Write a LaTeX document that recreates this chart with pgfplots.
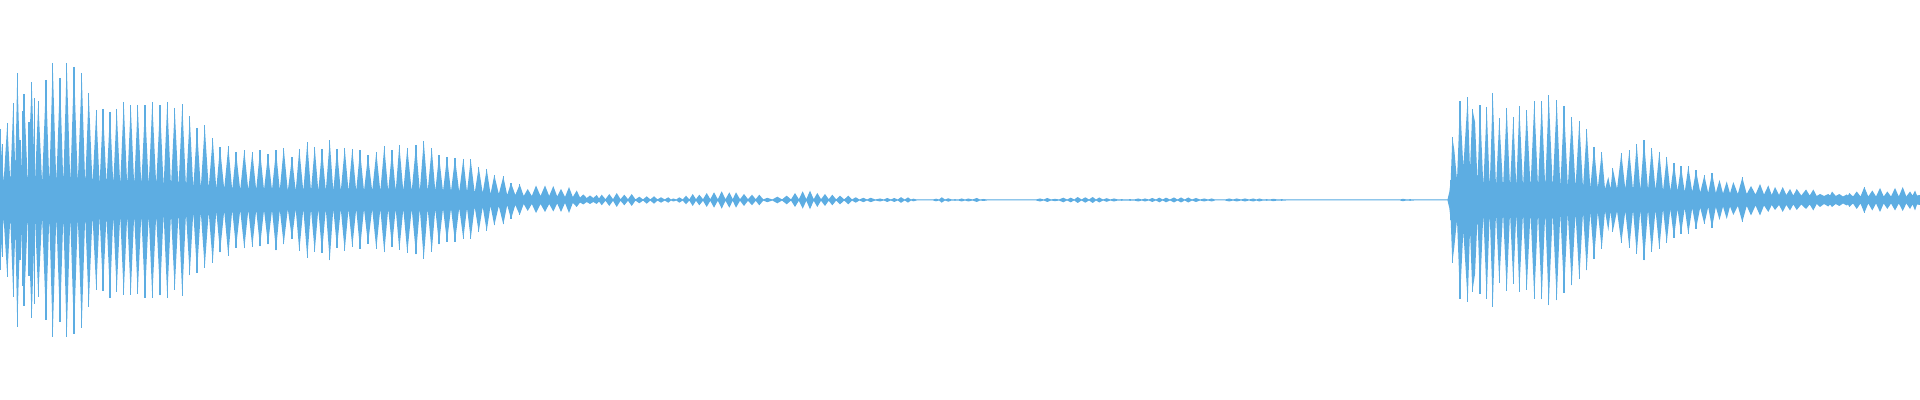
\documentclass[border=0pt]{standalone}
\usepackage{pgfplots}
\usepackage{pgfplotstable}
\pgfplotsset{compat=1.18}
\definecolor{wave}{HTML}{5DADE2}

% envelope: peaks of the spike clusters and the valleys between them (pixels above/below centre)
\pgfplotstableread{
x hi lo
0 71 -70
3.6 18 -18
7.3 77 -77
10.3 18 -18
13.3 97 -97
15.3 30 -30
17.3 127 -127
20.6 18 -18
24 106 -106
27.8 18 -18
31.7 118 -118
35 18 -18
38.3 99 -97
42.1 17 -17
46 120 -120
49.3 17 -17
52.7 137 -137
56.3 17 -17
60 122 -122
63.3 17 -17
66.7 137 -137
70.3 17 -17
74 133 -134
77.8 17 -17
81.7 127 -128
85.2 16 -16
88.7 107 -107
92.5 16 -16
96.3 90 -90
99.6 16 -16
103 91 -91
106.5 16 -16
110 88 -98
113.3 16 -16
116.7 91 -92
120.2 15 -15
123.7 98 -95
127.2 15 -15
130.7 95 -95
134.2 15 -15
137.7 95 -94
141.3 15 -15
145 94.5 -98
148.7 15 -15
152.3 98 -98
156.2 15 -15
160 94.5 -95.5
163.6 14 -14
167.3 98 -98
171 14 -14
174.7 92 -90
178.5 13 -13
182.3 95.5 -96
186 13 -13
189.7 83.5 -75.5
193.3 12 -12
197 72 -73
200.8 12 -12
204.7 74.5 -68
208.7 12 -12
212.7 62 -63
216.3 11 -11
220 53 -52.5
224.2 11 -11
228.3 53.5 -56
232.2 10 -10
236 48 -48
240.2 10 -10
244.3 49.5 -48.5
248.3 10 -10
252.3 48 -47
256.2 10 -10
260 49.5 -46.5
264 10 -10
268 45.5 -44.5
272 10 -10
276 49.5 -50.5
279.8 10 -10
283.7 52 -44.5
287.8 9 -9
292 43 -39
295.7 9 -9
299.3 51 -51
303.3 9 -9
307.3 57.5 -58
311 9 -9
314.7 53 -52
318.3 9 -9
322 51 -53
325.8 9 -9
329.7 59.5 -60.5
333.3 9 -9
337 51 -48
340.8 9 -9
344.7 52 -51
348.5 9 -9
352.3 51 -47
356.2 9 -9
360 49.5 -49
364 9 -9
368 44.5 -44
372.2 9 -9
376.3 48 -49
380.3 9 -9
384.3 53.5 -52.5
388.2 9 -9
392 49.5 -47
395.7 9 -9
399.3 55 -50
403.3 9 -9
407.3 52 -53
411.7 9 -9
416 55 -54.5
419.8 9 -9
423.7 59 -59
427.7 9 -9
431.7 52 -52
435.3 9 -9
439 44.5 -44.5
443 8.5 -8.5
447 43 -42
451 8.5 -8.5
455 42 -42
459.2 8 -8
463.3 41 -39
467 8 -8
470.7 40.5 -39
474.7 7 -7
478.7 33 -32
482.7 7 -7
486.7 31 -31
490.5 6 -6
494.3 25 -25.5
498.8 6 -6
503.3 23.5 -24.5
507.2 5 -5
511 17 -19
515.3 5 -5
519.7 15.5 -15
523.7 4 -4
527.7 11 -11
531.8 4 -4
536 14.5 -13
540.5 4 -4
545 14.5 -12
549.2 4 -4
553.3 14 -11.5
557.2 3.5 -3.5
561 11 -12
565 3 -3
569 13 -13
572.8 3 -3
576.7 9.5 -7
580 2.5 -2.5
583.3 5.5 -4.5
586.7 2 -2
590 4.5 -4
593.3 2 -2
596.7 5 -4
599 1.5 -1.5
601.7 5.3 -5.3
605.5 0.8 -0.8
609.3 6 -6
613 0.8 -0.8
616.7 7 -7
620.5 0.8 -0.8
624.3 5.3 -5.3
628 0.8 -0.8
631.7 6 -6
635.5 0.6 -0.6
639.3 3.3 -3.3
643 0.6 -0.6
646.7 3.7 -3.7
650.3 0.6 -0.6
654 3.7 -3.7
657.5 0.6 -0.6
661 2.7 -2.7
664.7 0.6 -0.6
668.3 2.7 -2.7
671 0.5 -0.5
673.3 1.5 -1.5
676.3 0.5 -0.5
679.3 2.7 -2.7
682.7 0.6 -0.6
686 4.3 -4.3
689.3 0.6 -0.6
692.7 6 -6
696 0.8 -0.8
699.3 5.3 -5.3
703 0.8 -0.8
706.7 7 -7
710.3 0.8 -0.8
714 7.7 -7.7
717.8 0.8 -0.8
721.7 8.7 -8.7
725.5 0.8 -0.8
729.3 7.7 -7.7
732.7 0.8 -0.8
736 7.7 -7.7
740 0.8 -0.8
744 6 -6
748 0.8 -0.8
752 5.3 -5.3
755.7 0.8 -0.8
759.3 5.3 -5.3
763.3 0.6 -0.6
767.3 2.2 -2.2
772.3 0.5 -0.5
777.3 3.3 -3.3
782 0.6 -0.6
786.7 4.3 -4.3
791 0.6 -0.6
795 7 -7
798.8 0.8 -0.8
802.7 8.7 -8.7
806.3 0.8 -0.8
810 9.3 -9.3
813.7 0.8 -0.8
817.3 7 -7
821 0.8 -0.8
825 6 -6
828.7 0.8 -0.8
832.3 5.3 -5.3
836.2 0.6 -0.6
840 4.3 -4.3
844.2 0.6 -0.6
848.3 4.3 -4.3
852 0.6 -0.6
855.7 2.7 -2.7
859.5 0.5 -0.5
863.3 2.2 -2.2
867 0.5 -0.5
870.7 2.2 -2.2
875.3 0.5 -0.5
880 1.5 -1.5
883.7 0.5 -0.5
887.3 2 -2
890.8 0.5 -0.5
894.3 2 -2
897.7 0.5 -0.5
901 2.8 -2.8
904.7 0.5 -0.5
908 2.6 -2.6
911 0.5 -0.5
913.3 1.3 -1.3
916.7 0.5 -0.5
933 0.5 -0.5
936 1.3 -1.3
939 0.5 -0.5
941.7 2.7 -2.7
945 0.5 -0.5
948.3 1.7 -1.7
951.7 0.5 -0.5
955 0.8 -0.8
958.3 0.5 -0.5
961.7 1.5 -1.5
965 0.5 -0.5
968.3 1.5 -1.5
972.5 0.5 -0.5
976.7 2 -2
980 0.5 -0.5
983.3 1 -1
987 0.5 -0.5
1036 0.5 -0.5
1040 1.5 -1.5
1043.7 0.5 -0.5
1047.3 2 -2
1051 0.5 -0.5
1055 1.2 -1.2
1059 0.5 -0.5
1063.3 2.3 -2.3
1067 0.5 -0.5
1070.7 2.3 -2.3
1074.2 0.5 -0.5
1077.7 3 -3
1081.5 0.5 -0.5
1085.3 2.7 -2.7
1089 0.5 -0.5
1092.7 3 -3
1096 0.5 -0.5
1099.3 2.5 -2.5
1103 0.5 -0.5
1106.7 1.8 -1.8
1110.3 0.5 -0.5
1114 1.5 -1.5
1118 0.5 -0.5
1121.7 0.8 -0.8
1126 0.5 -0.5
1130 0.8 -0.8
1134 0.5 -0.5
1138.3 1.5 -1.5
1141.7 0.5 -0.5
1145 1.5 -1.5
1148.7 0.5 -0.5
1152.3 2 -2
1155.8 0.5 -0.5
1159.3 2.3 -2.3
1162.7 0.5 -0.5
1166 2.3 -2.3
1170 0.5 -0.5
1174 2.5 -2.5
1177.5 0.5 -0.5
1181 2.5 -2.5
1184.7 0.5 -0.5
1188.3 2.5 -2.5
1192 0.5 -0.5
1196 2 -2
1200 0.5 -0.5
1204.3 1.5 -1.5
1208 0.5 -0.5
1211.7 1.5 -1.5
1215 0.5 -0.5
1225 0.5 -0.5
1229.3 1.5 -1.5
1233 0.5 -0.5
1236.7 1.5 -1.5
1241 0.5 -0.5
1245 1.5 -1.5
1249 0.5 -0.5
1253.3 1.5 -1.5
1256.3 0.5 -0.5
1259.3 1.5 -1.5
1263 0.5 -0.5
1266.7 0.8 -0.8
1270 0.5 -0.5
1273.3 1.2 -1.2
1277.5 0.5 -0.5
1281.7 0.8 -0.8
1286 0.5 -0.5
1400 0.5 -0.5
1403 1.2 -1.2
1406.5 0.5 -0.5
1410 0.8 -0.8
1414 0.5 -0.5
1447.5 0.5 -0.5
1449.3 8 -8
1450.7 19.5 -20.5
1452.3 63 -63
1454.3 50 -47
1457 20 -20
1460 98.5 -99
1463.3 33 -31
1467.7 102.5 -102
1470 30 -30
1472.3 91 -92
1475 78 -74
1477.5 18 -18
1480 94.5 -94
1483.3 14 -14
1486.7 93 -99
1489.7 13 -13
1492.7 107 -107
1496 13 -13
1499.3 82 -83
1503 13 -13
1506.7 92 -91
1510 13 -13
1513.3 83 -84
1516.3 13 -13
1519.3 94 -92
1523 13 -13
1526.7 89.5 -90
1530.5 13 -13
1534.3 98.5 -99
1538 13 -13
1541.7 98.5 -99.5
1545.2 13 -13
1548.7 104.5 -105.5
1552.7 13 -13
1556.7 99.5 -100.5
1560.3 13 -13
1564 94 -93
1567.8 13 -13
1571.7 83 -85.5
1575.5 13 -13
1579.3 79 -79.5
1583 12 -12
1586.7 71 -70.5
1590.3 12 -12
1594 53 -59
1597.8 12 -12
1601.7 48 -49
1605 11 -11
1608.3 23 -31
1610.5 11 -11
1612.7 32 -32
1617 11 -11
1621.3 47 -43
1625.3 11 -11
1629.3 49.5 -48
1633 10 -10
1636.7 56 -54
1640.3 10 -10
1644 59.5 -60.5
1648 10 -10
1651.7 52 -52
1655.5 10 -10
1659.3 48 -49
1663 9 -9
1666.7 43 -43
1670.3 9 -9
1674 37 -38
1677.5 9 -9
1681 33.5 -34
1684.7 8 -8
1688.3 33.5 -34
1692.2 8 -8
1696 29.5 -29
1700.2 7.5 -7.5
1704.3 24.5 -24
1708.2 7 -7
1712 27 -28
1715.8 7 -7
1719.5 20 -20
1723 6.5 -6.5
1726.7 18.5 -19
1730 6.5 -6.5
1733.3 18 -15
1737.8 6 -6
1742.3 22.5 -22
1746.7 6 -6
1751 14 -15.5
1755.5 5.5 -5.5
1760 16 -15.5
1764 5.5 -5.5
1768.3 14.5 -12
1771.7 5 -5
1775 13 -10
1779 5 -5
1782.7 13 -12
1786.3 5 -5
1790 11 -10.5
1793.3 4.5 -4.5
1796.7 11 -10
1801.3 4.5 -4.5
1806 10.5 -9
1809.7 4.5 -4.5
1813.3 10.5 -10.5
1816.7 4 -4
1820 6 -7
1824 4 -4
1828.3 6 -6.5
1830 4.5 -4.5
1832 8.5 -7
1835.7 4 -4
1839.3 6 -6
1843 3.5 -3.5
1846.7 5.5 -5.5
1848 4.5 -4.5
1849.3 7 -7
1853 3.5 -3.5
1856.7 8.5 -9
1860.5 3.5 -3.5
1864.3 13 -13
1868.3 3.5 -3.5
1872.3 9.5 -10.5
1876 3.5 -3.5
1880 12 -12
1883.7 3.5 -3.5
1887.3 8.5 -9
1891 3.5 -3.5
1895 12 -10.5
1898.8 3.5 -3.5
1902.7 13 -11
1906.3 3.5 -3.5
1910 8.5 -9
1912.5 4.5 -4.5
1915 9.5 -10.5
1917 4.5 -4.5
1920 5 -5
}\env

% tallest column of each spike cluster (pixels above/below centre)
\pgfplotstableread{
x hi lo
0 71 -70
2.7 56 -57
7.3 77 -77
13.3 97 -97
17.3 127 -127
20 60 -60
22.3 89 -86
24 106 -106
29 78 -76
31.7 118 -118
34.3 102 -104
38.3 99 -97
46 120 -120
52.7 137 -137
60 122 -122
66.7 137 -137
74 133 -134
81.7 127 -128
88.7 107 -107
96.3 90 -90
103 91 -91
110 88 -98
116.7 91 -92
123.7 98 -95
130.7 95 -95
137.7 95 -94
145 94.5 -98
152.3 98 -98
160 94.5 -95.5
167.3 98 -98
174.7 92 -90
182.3 95.5 -96
189.7 83.5 -75.5
197 72 -73
204.7 74.5 -68
212.7 62 -63
220 53 -52.5
228.3 53.5 -56
236 48 -48
244.3 49.5 -48.5
252.3 48 -47
260 49.5 -46.5
268 45.5 -44.5
276 49.5 -50.5
283.7 52 -44.5
292 43 -39
299.3 51 -51
307.3 57.5 -58
314.7 53 -52
322 51 -53
329.7 59.5 -60.5
337 51 -48
344.7 52 -51
352.3 51 -47
360 49.5 -49
368 44.5 -44
376.3 48 -49
384.3 53.5 -52.5
392 49.5 -47
399.3 55 -50
407.3 52 -53
416 55 -54.5
423.7 59 -59
431.7 52 -52
439 44.5 -44.5
447 43 -42
455 42 -42
463.3 41 -39
470.7 40.5 -39
478.7 33 -32
486.7 31 -31
494.3 25 -25.5
503.3 23.5 -24.5
511 17 -19
519.7 15.5 -15
1450.7 19.5 -20.5
1452.3 63 -63
1460 98.5 -99
1467.7 102.5 -102
1472.3 91 -92
1480 94.5 -94
1486.7 93 -99
1492.7 107 -107
1499.3 82 -83
1506.7 92 -91
1513.3 83 -84
1519.3 94 -92
1526.7 89.5 -90
1534.3 98.5 -99
1541.7 98.5 -99.5
1548.7 104.5 -105.5
1556.7 99.5 -100.5
1564 94 -93
1571.7 83 -85.5
1579.3 79 -79.5
1586.7 71 -70.5
1594 53 -59
1601.7 48 -49
1612.7 32 -32
1621.3 47 -43
1629.3 49.5 -48
1636.7 56 -54
1644 59.5 -60.5
1651.7 52 -52
1659.3 48 -49
1666.7 43 -43
1674 37 -38
1681 33.5 -34
1688.3 33.5 -34
1696 29.5 -29
1704.3 24.5 -24
1712 27 -28
1742.3 22.5 -22
1864.3 13 -13
}\spikes

\begin{document}
\begin{tikzpicture}
\begin{axis}[
  width=19.2cm, height=4cm, scale only axis,
  xmin=0, xmax=1920, ymin=-200, ymax=200,
  hide axis, clip=true,
]
\coordinate (A) at (rel axis cs:0,0);
\coordinate (B) at (rel axis cs:1,1);
\addplot[fill=wave, draw=none] table[x=x, y=hi] {\env} \closedcycle;
\addplot[fill=wave, draw=none] table[x=x, y=lo] {\env} \closedcycle;
\addplot[ycomb, wave, line width=0.011cm, mark=none] table[x=x, y=hi] {\spikes};
\addplot[ycomb, wave, line width=0.011cm, mark=none] table[x=x, y=lo] {\spikes};
\end{axis}
\pgfresetboundingbox
\path[use as bounding box] (A) rectangle (B);
\end{tikzpicture}
\end{document}
